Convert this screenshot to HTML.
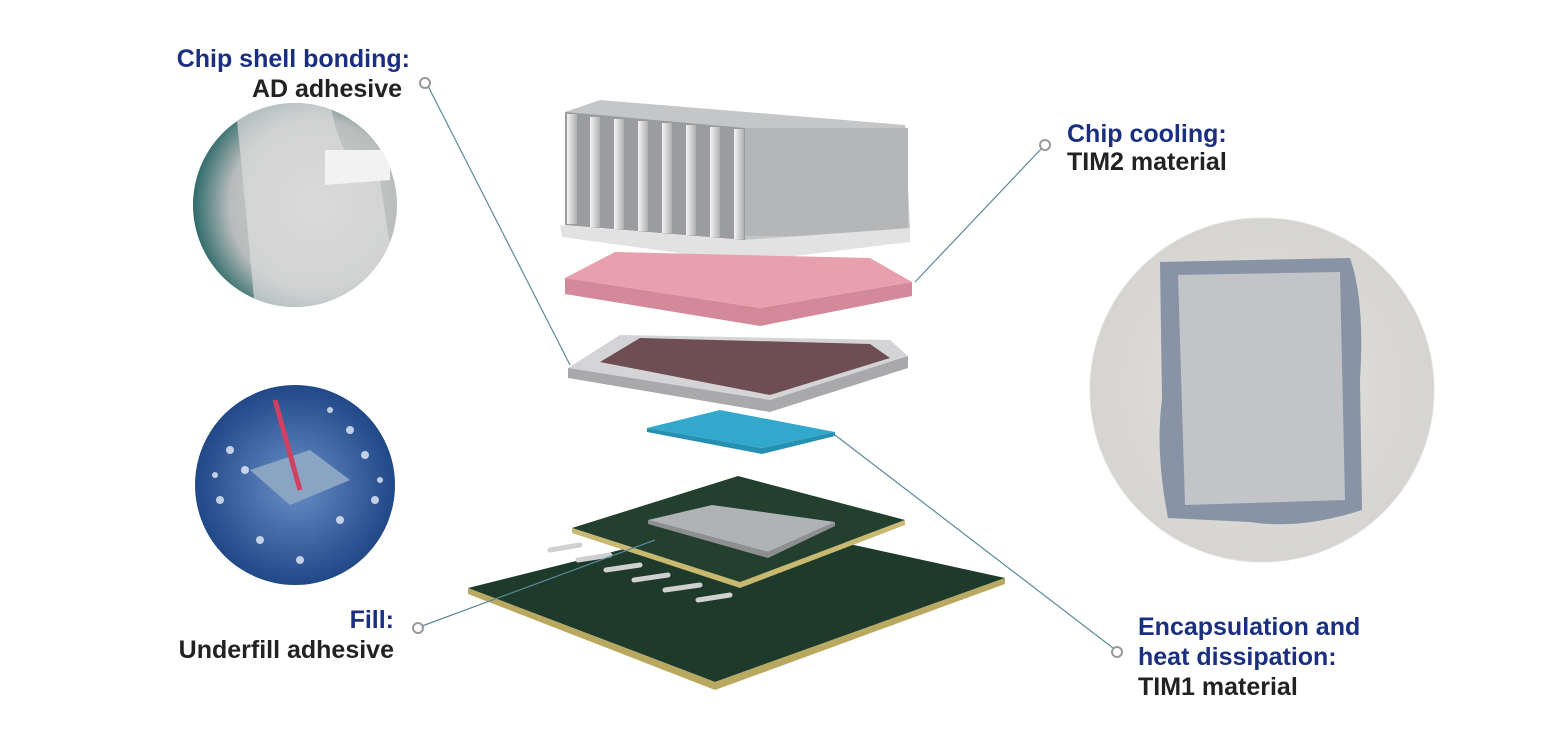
<!DOCTYPE html>
<html><head><meta charset="utf-8"><style>
body{margin:0;background:#fff;}
svg{display:block}
.b{font-family:"Liberation Sans",sans-serif;font-weight:bold;font-size:25px;fill:#1b2f80}
.k{font-family:"Liberation Sans",sans-serif;font-weight:bold;font-size:25px;fill:#222}
</style></head><body>
<svg width="1550" height="750" viewBox="0 0 1550 750" xmlns="http://www.w3.org/2000/svg">
<defs>
<radialGradient id="g1" cx="0.6" cy="0.5" r="0.6"><stop offset="0" stop-color="#d8d8d8"/><stop offset="0.7" stop-color="#b9bcbc"/><stop offset="1" stop-color="#2e6a6a"/></radialGradient>
<radialGradient id="g2" cx="0.5" cy="0.5" r="0.6"><stop offset="0" stop-color="#6a8fc8"/><stop offset="1" stop-color="#123a7a"/></radialGradient>
<radialGradient id="g3" cx="0.5" cy="0.5" r="0.55"><stop offset="0" stop-color="#e4e2de"/><stop offset="1" stop-color="#d4d3cf"/></radialGradient>
<linearGradient id="fin" x1="0" x2="1"><stop offset="0" stop-color="#f4f4f4"/><stop offset="1" stop-color="#b0b0b0"/></linearGradient>
<clipPath id="c1"><circle cx="295" cy="205" r="102"/></clipPath>
</defs>
<circle cx="295" cy="205" r="102" fill="url(#g1)"/>
<g clip-path="url(#c1)">
<path d="M235 100 L330 100 Q340 170 380 180 L400 310 L255 310 Q245 200 235 100Z" fill="#dcdcdc" opacity="0.7"/>
<path d="M325 150 L390 150 L390 180 L325 185Z" fill="#f2f2f2"/>
</g>
<circle cx="295" cy="485" r="100" fill="url(#g2)"/>
<g fill="#e8eef8" opacity="0.8">
<circle cx="230" cy="450" r="4"/><circle cx="245" cy="470" r="4"/><circle cx="220" cy="500" r="4"/><circle cx="350" cy="430" r="4"/><circle cx="365" cy="455" r="4"/><circle cx="340" cy="520" r="4"/><circle cx="260" cy="540" r="4"/><circle cx="375" cy="500" r="4"/><circle cx="300" cy="560" r="4"/><circle cx="215" cy="475" r="3"/><circle cx="330" cy="410" r="3"/><circle cx="380" cy="480" r="3"/>
</g>
<path d="M250 470 L310 450 L350 480 L290 505Z" fill="#8aa4c4"/>
<line x1="275" y1="400" x2="300" y2="490" stroke="#d04060" stroke-width="5"/>
<circle cx="1262" cy="390" r="172" fill="url(#g3)" stroke="#e0e0e0"/>
<path d="M1160 262 L1350 258 Q1365 300 1360 380 L1362 510 Q1300 530 1250 522 L1168 518 Q1155 450 1162 400Z" fill="#8893a5"/>
<path d="M1178 275 L1340 272 L1345 500 L1185 505Z" fill="#c2c4c8"/>
<path d="M565 112 L600 100 L905 125 L910 230 L745 240 L565 225Z" fill="#c4c6c8"/>
<rect x="745" y="128" width="163" height="108" fill="#b4b6b8"/>
<path d="M565 112 L745 128 L745 240 L565 225Z" fill="#9a9c9f"/>
<g fill="url(#fin)">
<rect x="567" y="114" width="10" height="110"/><rect x="590" y="117" width="10" height="110"/><rect x="614" y="119" width="10" height="110"/><rect x="638" y="121" width="10" height="110"/><rect x="662" y="123" width="10" height="110"/><rect x="686" y="125" width="10" height="110"/><rect x="710" y="127" width="10" height="110"/><rect x="734" y="129" width="10" height="110"/>
</g>
<path d="M560 225 L745 240 L910 228 L910 242 L745 262 L562 237Z" fill="#e2e2e2"/>
<path d="M565 278 L615 252 L870 258 L912 282 L760 308Z" fill="#e9a0ad"/>
<path d="M565 278 L760 308 L912 282 L912 296 L760 326 L565 294Z" fill="#d4899a"/>
<path d="M568 368 L620 335 L890 340 L908 356 L770 400 L590 375Z" fill="#d4d4d6"/>
<path d="M600 362 L640 338 L870 344 L890 358 L770 395Z" fill="#6e4e52"/>
<path d="M568 368 L770 400 L908 356 L908 368 L770 412 L568 378Z" fill="#a9a9ab"/>
<path d="M647 428 L720 410 L835 432 L762 448Z" fill="#31a8cc"/>
<path d="M647 428 L762 448 L835 432 L835 436 L762 454 L647 432Z" fill="#2590b2"/>
<path d="M468 588 L740 520 L1005 578 L715 682Z" fill="#1e3a2a"/>
<path d="M468 588 L715 682 L1005 578 L1005 584 L715 690 L468 594Z" fill="#b8a860"/>
<g stroke="#d0d0d0" stroke-width="5" stroke-linecap="round">
<line x1="550" y1="550" x2="580" y2="545"/><line x1="578" y1="560" x2="610" y2="555"/><line x1="606" y1="570" x2="640" y2="565"/><line x1="634" y1="580" x2="668" y2="575"/><line x1="665" y1="590" x2="700" y2="585"/><line x1="698" y1="600" x2="730" y2="595"/>
</g>
<path d="M572 528 L738 476 L905 520 L740 582Z" fill="#233f2e"/>
<path d="M572 528 L740 582 L905 520 L905 525 L740 588 L572 533Z" fill="#c8b870"/>
<path d="M648 520 L712 505 L835 522 L768 552Z" fill="#b0b2b6"/>
<path d="M648 520 L768 552 L835 522 L835 526 L768 558 L648 524Z" fill="#8d8f92"/>
<g stroke="#5a8a9a" stroke-width="1.2" fill="none">
<line x1="428" y1="86" x2="570" y2="365"/>
<line x1="1042" y1="148" x2="915" y2="282"/>
<line x1="422" y1="626" x2="655" y2="540"/>
<line x1="1113" y1="648" x2="835" y2="435"/>
</g>
<g fill="#fff" stroke="#999" stroke-width="2">
<circle cx="425" cy="83" r="5"/><circle cx="1045" cy="145" r="5"/><circle cx="418" cy="628" r="5"/><circle cx="1117" cy="652" r="5"/>
</g>
<text class="b" x="410" y="67" text-anchor="end">Chip shell bonding:</text>
<text class="k" x="402" y="97" text-anchor="end">AD adhesive</text>
<text class="b" x="1067" y="142">Chip cooling:</text>
<text class="k" x="1067" y="170">TIM2 material</text>
<text class="b" x="394" y="628" text-anchor="end">Fill:</text>
<text class="k" x="394" y="658" text-anchor="end">Underfill adhesive</text>
<text class="b" x="1138" y="635">Encapsulation and</text>
<text class="b" x="1138" y="665">heat dissipation:</text>
<text class="k" x="1138" y="695">TIM1 material</text>
</svg>
</body></html>
